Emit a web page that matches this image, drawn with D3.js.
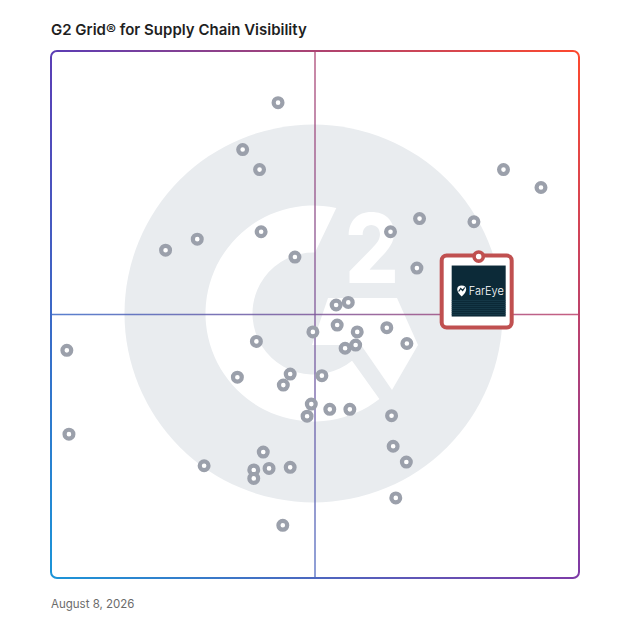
<!DOCTYPE html>
<html><head><meta charset="utf-8">
<script src="https://cdn.jsdelivr.net/npm/d3@7"></script>
<style>html,body{margin:0;padding:0;background:#fff;} svg{display:block;font-family:Inter,"Noto Sans",sans-serif;}</style>
</head><body><svg id="c" width="628" height="628"></svg>
<script>
const title = "G2 Grid® for Supply Chain Visibility";
const dateLabel = "August 8, 2026";
// x = satisfaction score, y = market presence score (0-100)
const satisfaction = [43.0,36.3,39.5,85.7,92.8,69.8,80.1,39.8,64.3,27.7,21.7,46.2,69.3,54.0,56.3,49.6,54.2,58.0,63.6,38.9,55.7,57.7,67.4,3.0,35.3,45.3,44.0,51.3,49.3,48.5,52.8,56.6,64.5,3.4,64.8,67.3,40.2,29.0,38.4,41.3,38.4,45.3,65.3,43.9];
const marketPresence = [90.2,81.3,77.5,77.5,74.1,68.2,67.6,65.7,65.7,64.3,62.2,60.9,58.8,51.8,52.3,46.7,48.0,46.7,47.5,44.9,43.6,44.2,44.5,43.2,38.1,38.7,36.6,38.4,33.0,30.7,32.0,32.0,30.8,27.3,25.0,22.0,23.9,21.3,20.5,20.8,18.9,21.0,15.2,10.0];
const highlightName = "FarEye";
const highlightSatisfaction = [81.0];
const highlightPresence = [61.0];
const cornerColors = {tl:"#5b3db6", tr:"#ff4a2d", bl:"#1a96d8", br:"#7d3aa8"};

const svg = d3.select("#c");
const L=51,R=579,T=51,B=578;
const x = d3.scaleLinear().domain([0,100]).range([L,R]);
const y = d3.scaleLinear().domain([0,100]).range([B,T]);

// title & date
svg.append("text").attr("x",L).attr("y",35).attr("font-size",15).attr("font-weight",600).attr("fill","#1f1f1f").text(title);
svg.append("text").attr("x",L).attr("y",608).attr("font-size",11.5).attr("fill","#6b6b6b").text(dateLabel);

// G2 watermark
const cx = x(50)-1.5, cy = y(50)-1, RR = 189;
const logo = svg.append("g");
logo.append("circle").attr("cx",cx).attr("cy",cy).attr("r",RR).attr("fill","#e9ecef");
const deg = Math.PI/180, ro=108, ri=61;
const p = d3.path();
p.moveTo(cx+ro*Math.cos(-77.8*deg), cy+ro*Math.sin(-77.8*deg));
p.arc(cx,cy,ro,-77.8*deg,52.4*deg,true);
p.lineTo(cx+ri*Math.cos(50.8*deg), cy+ri*Math.sin(50.8*deg));
p.arc(cx,cy,ri,50.8*deg,271.4*deg,false);
p.closePath();
logo.append("path").attr("d",p.toString()).attr("fill","#fff");
const chev = [[14.5,-15.5],[83.5,-15.5],[104.5,31.5],[78.5,76.5],[47.5,31.5],[-1.5,31.5]];
logo.append("path").attr("d","M"+chev.map(d=>[cx+d[0],cy+d[1]].join(",")).join("L")+"Z").attr("fill","#fff");
logo.append("text").attr("x",cx+58.5).attr("y",cy-30.5).attr("text-anchor","middle")
  .attr("font-size",96).attr("font-weight",800).attr("fill","#fff")
  .attr("transform",`translate(${cx+58.5},0) scale(0.88,1) translate(${-(cx+58.5)},0)`).text("2");

// gradient border and quadrant lines
const defs = svg.append("defs");
function lg(id,c1,c2,vert){
  const g=defs.append("linearGradient").attr("id",id).attr("x1",0).attr("y1",0).attr("x2",vert?0:1).attr("y2",vert?1:0);
  g.append("stop").attr("offset",0).attr("stop-color",c1.c).attr("stop-opacity",c1.o);
  g.append("stop").attr("offset",1).attr("stop-color",c2.c).attr("stop-opacity",c2.o);
}
lg("gTop",{c:cornerColors.tl,o:1},{c:cornerColors.tr,o:1},false);
lg("gBot",{c:cornerColors.bl,o:1},{c:cornerColors.br,o:1},false);
lg("gFade",{c:"#fff",o:0},{c:"#fff",o:1},true);
const mFade = defs.append("mask").attr("id","mFade").attr("maskUnits","userSpaceOnUse").attr("x",0).attr("y",0).attr("width",628).attr("height",628);
mFade.append("rect").attr("x",L-3).attr("y",T-3).attr("width",R-L+6).attr("height",B-T+6).attr("fill","url(#gFade)");
const mLines = defs.append("mask").attr("id","mLines").attr("maskUnits","userSpaceOnUse").attr("x",0).attr("y",0).attr("width",628).attr("height",628);
mLines.append("rect").attr("x",L).attr("y",T).attr("width",R-L).attr("height",B-T).attr("rx",6).attr("fill","none").attr("stroke","#fff").attr("stroke-width",2);
mLines.append("line").attr("x1",x(50)).attr("x2",x(50)).attr("y1",T).attr("y2",B).attr("stroke","#fff").attr("stroke-opacity",0.85).attr("stroke-width",1.5);
mLines.append("line").attr("x1",L).attr("x2",R).attr("y1",y(50)).attr("y2",y(50)).attr("stroke","#fff").attr("stroke-opacity",0.85).attr("stroke-width",1.5);
const gl = svg.append("g").attr("mask","url(#mLines)");
gl.append("rect").attr("x",L-3).attr("y",T-3).attr("width",R-L+6).attr("height",B-T+6).attr("fill","url(#gTop)");
gl.append("rect").attr("x",L-3).attr("y",T-3).attr("width",R-L+6).attr("height",B-T+6).attr("fill","url(#gBot)").attr("mask","url(#mFade)");

// points
const pts = satisfaction.map((s,i)=>({s, m:marketPresence[i]}));
svg.append("g").selectAll("circle").data(pts).join("circle")
  .attr("cx",d=>x(d.s)).attr("cy",d=>y(d.m)).attr("r",4.4)
  .attr("fill","#fff").attr("stroke","#9ba0ab").attr("stroke-width",4.2);

// highlighted vendor
const hx = x(highlightSatisfaction[0]), hy = y(highlightPresence[0]);
const hg = svg.append("g");
hg.append("rect").attr("x",hx-37).attr("y",hy-1).attr("width",70).attr("height",72).attr("rx",5)
  .attr("fill","#fff").attr("stroke","#c05050").attr("stroke-width",4);
hg.append("rect").attr("x",hx-27).attr("y",hy+9).attr("width",54).attr("height",51).attr("fill","#0c2a38");
for(let i=0;i<8;i++){
  hg.append("line").attr("x1",hx-27).attr("x2",hx+27).attr("y1",hy+44+i*2).attr("y2",hy+44+i*2)
    .attr("stroke","#1d4253").attr("stroke-width",0.8).attr("stroke-opacity",0.7);
}
// small pin icon
const ix = hx-17, iy = hy+34;
hg.append("path").attr("d",`M${ix},${iy+6} C${ix-6},${iy+1} ${ix-6},${iy-5} ${ix},${iy-5} C${ix+6},${iy-5} ${ix+6},${iy+1} ${ix},${iy+6}Z`)
  .attr("fill","#fff");
hg.append("path").attr("d",`M${ix-3},${iy+1} L${ix-1},${iy-2} L${ix+1},${iy} L${ix+3},${iy-3}`).attr("fill","none").attr("stroke","#0c2a38").attr("stroke-width",1.2);
hg.append("text").attr("x",hx-10).attr("y",hy+38).attr("font-size",11).attr("font-weight",300).attr("fill","#fff").text(highlightName);
hg.append("circle").attr("cx",hx).attr("cy",hy).attr("r",4.6).attr("fill","#fff").attr("stroke","#c05050").attr("stroke-width",3.6);
</script></body></html>
